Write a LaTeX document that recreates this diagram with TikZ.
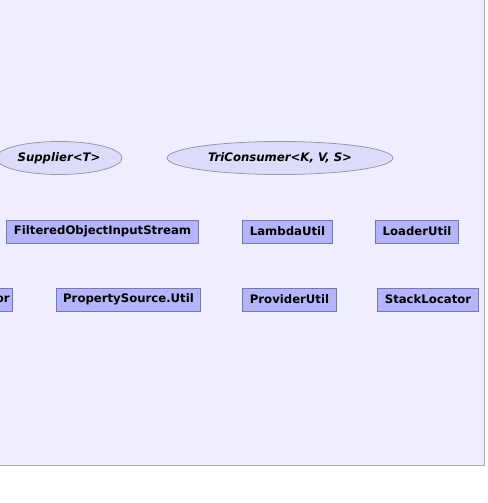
\documentclass[tikz,border=0pt]{standalone}
\usepackage{fontspec}
\setmainfont{DejaVu Sans}
\usetikzlibrary{shapes}

\definecolor{pkgfill}{HTML}{EEEEFF}
\definecolor{pkgline}{HTML}{A8A8B8}
\definecolor{clsfill}{HTML}{B4B4FA}
\definecolor{clsline}{HTML}{7878A8}
\definecolor{ifcfill}{HTML}{DCDCFA}
\definecolor{ifcline}{HTML}{9898AC}

\begin{document}
\begin{tikzpicture}[x=1pt, y=-1pt, font=\bfseries\fontsize{11.7}{13}\selectfont,
	cls/.style={draw=clsline, fill=clsfill, rectangle, minimum height=23pt, inner xsep=7pt, inner ysep=0pt, line width=0.8pt},
	ifc/.style={draw=ifcline, fill=ifcfill, ellipse, minimum height=33pt, inner sep=0pt, line width=0.8pt, font=\bfseries\itshape\fontsize{11.7}{13}\selectfont}]
		\useasboundingbox (0, 0) rectangle (487, 503);
		\draw[pkgline, fill=pkgfill, line width=1pt] (-10, -10) rectangle (484, 465);
		
		\node[ifc, minimum width=126pt] (supplier) at (59, 158) {Supplier<T>};
		\node[ifc, minimum width=226pt] (triconsumer) at (280, 158) {TriConsumer<K, V, S>};
		
		\node[cls] (filtered) at (102.5, 231.5) {FilteredObjectInputStream};
		\node[cls] (lambda) at (287.5, 231.5) {LambdaUtil};
		\node[cls] (loader) at (417, 231.5) {LoaderUtil};
		
		\node[cls, anchor=east, text width=30pt, align=right, inner xsep=3pt] (cut) at (13, 299.5) {or};
		\node[cls] (propsource) at (128.5, 299.5) {PropertySource.Util};
		\node[cls] (provider) at (289.5, 299.5) {ProviderUtil};
		\node[cls] (stack) at (428, 299.5) {StackLocator};
		
	\end{tikzpicture}
\end{document}
